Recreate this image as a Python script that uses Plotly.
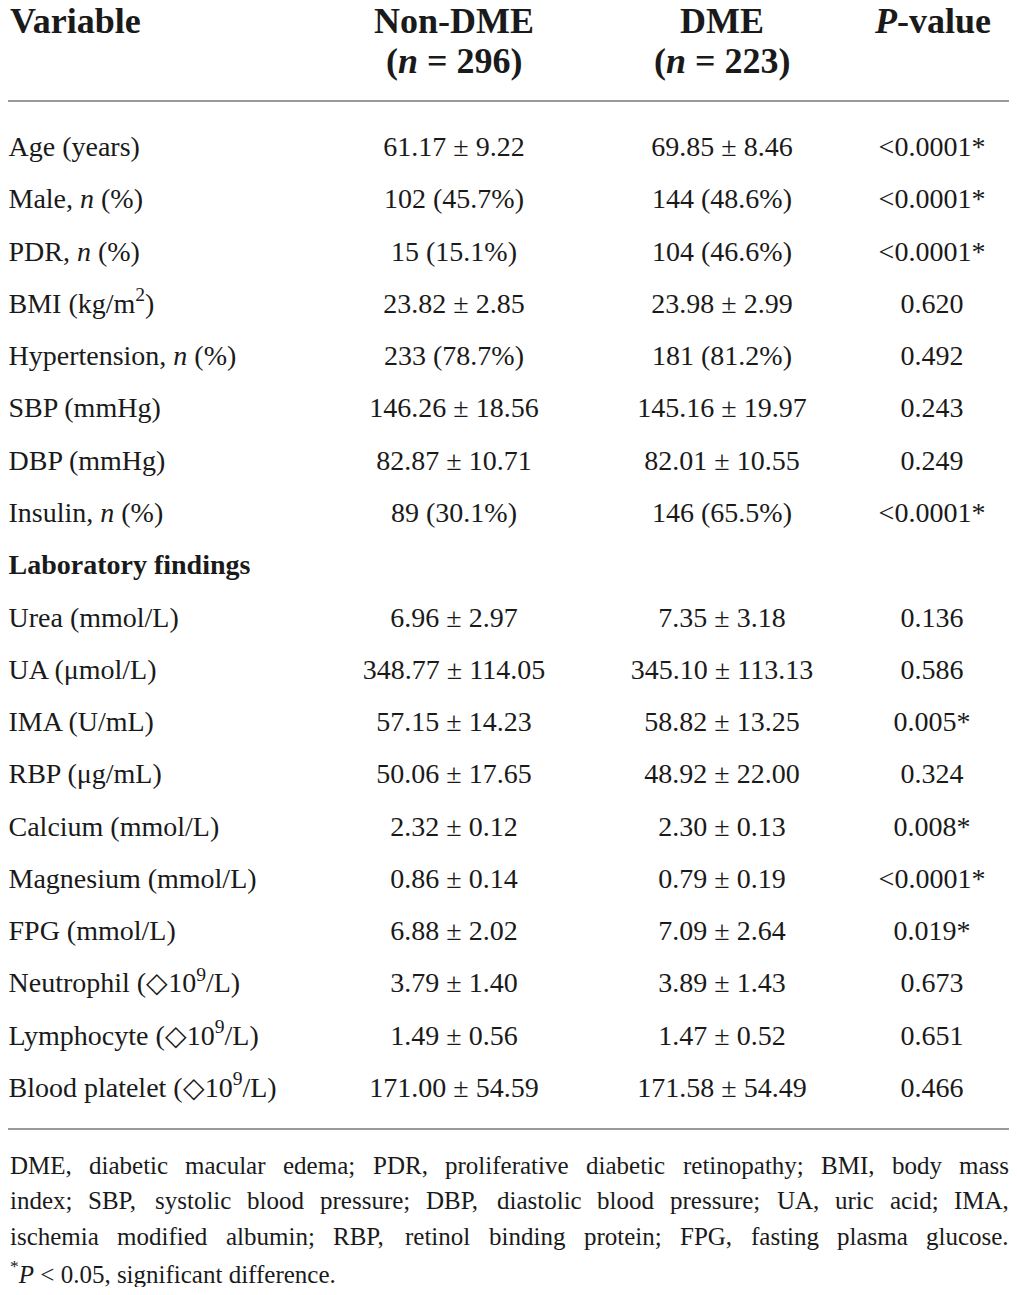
import plotly.graph_objects as go

variables = [
    "Age (years)", "Male, <i>n</i> (%)", "PDR, <i>n</i> (%)", "BMI (kg/m<sup>2</sup>)",
    "Hypertension, <i>n</i> (%)", "SBP (mmHg)", "DBP (mmHg)", "Insulin, <i>n</i> (%)",
    "<b>Laboratory findings</b>", "Urea (mmol/L)", "UA (μmol/L)", "IMA (U/mL)",
    "RBP (μg/mL)", "Calcium (mmol/L)", "Magnesium (mmol/L)", "FPG (mmol/L)",
    "Neutrophil (◇10<sup>9</sup>/L)", "Lymphocyte (◇10<sup>9</sup>/L)",
    "Blood platelet (◇10<sup>9</sup>/L)",
]
non_dme = [
    "61.17 ± 9.22", "102 (45.7%)", "15 (15.1%)", "23.82 ± 2.85", "233 (78.7%)",
    "146.26 ± 18.56", "82.87 ± 10.71", "89 (30.1%)", "", "6.96 ± 2.97",
    "348.77 ± 114.05", "57.15 ± 14.23", "50.06 ± 17.65", "2.32 ± 0.12",
    "0.86 ± 0.14", "6.88 ± 2.02", "3.79 ± 1.40", "1.49 ± 0.56", "171.00 ± 54.59",
]
dme = [
    "69.85 ± 8.46", "144 (48.6%)", "104 (46.6%)", "23.98 ± 2.99", "181 (81.2%)",
    "145.16 ± 19.97", "82.01 ± 10.55", "146 (65.5%)", "", "7.35 ± 3.18",
    "345.10 ± 113.13", "58.82 ± 13.25", "48.92 ± 22.00", "2.30 ± 0.13",
    "0.79 ± 0.19", "7.09 ± 2.64", "3.89 ± 1.43", "1.47 ± 0.52", "171.58 ± 54.49",
]
p_values = [
    "<0.0001*", "<0.0001*", "<0.0001*", "0.620", "0.492", "0.243", "0.249",
    "<0.0001*", "", "0.136", "0.586", "0.005*", "0.324", "0.008*",
    "<0.0001*", "0.019*", "0.673", "0.651", "0.466",
]
headers = ["Variable", "Non-DME", "DME", "<i>P</i>-value"]
header_n = ["", "(<i>n</i> = 296)", "(<i>n</i> = 223)", ""]
footnote = [
    "DME, diabetic macular edema; PDR, proliferative diabetic retinopathy; BMI, body mass",
    "index; SBP, systolic blood pressure; DBP, diastolic blood pressure; UA, uric acid; IMA,",
    "ischemia modified albumin; RBP, retinol binding protein; FPG, fasting plasma glucose.",
]
footnote_last = "<sup>*</sup><i>P</i> &lt; 0.05, significant difference."

# page body has an 8px margin: size the figure to fit inside the window and
# make one data unit equal one screen pixel
OFF = 8
W, H = 1017 - 2 * OFF, 1295 - 2 * OFF
col_x = [8.5, 454, 722, 932]
row_y = [149 + i * 52.28 for i in range(len(variables))]
ink = "#1a1a1a"
serif = "Liberation Serif"

# rough Times-metric widths (per 1000 em) used to justify the footnote
_w = {" ": 250, ",": 250, ".": 250, ";": 278, ":": 278, "-": 333, "(": 333, ")": 333}
_w.update(dict(zip("ABCDEFGHIJKLMNOPQRSTUVWXYZ",
                   [722, 667, 667, 722, 611, 556, 722, 722, 333, 389, 722, 611, 889,
                    722, 722, 556, 722, 667, 556, 611, 722, 722, 944, 722, 722, 611])))
_w.update(dict(zip("abcdefghijklmnopqrstuvwxyz",
                   [444, 500, 444, 500, 444, 333, 500, 500, 278, 278, 500, 278, 778,
                    500, 500, 500, 500, 333, 389, 278, 500, 500, 722, 500, 500, 444])))


def word_width(word, size):
    return sum(_w.get(c, 500) for c in word) * size / 1000.0


fig = go.Figure()

# body columns
columns = [variables, non_dme, dme, [p.replace("<", "&lt;") for p in p_values]]
for j, col in enumerate(columns):
    fig.add_trace(go.Scatter(
        x=[col_x[j]] * len(col), y=row_y, text=col, mode="text",
        textposition="middle right" if j == 0 else "middle center",
        textfont=dict(family=serif, size=28, color=ink),
        hoverinfo="skip", showlegend=False, cliponaxis=False,
    ))

# header
for j in range(4):
    fig.add_annotation(x=col_x[j], y=21, text="<b>" + headers[j] + "</b>",
                       xanchor="left" if j == 0 else "center", yanchor="middle",
                       showarrow=False, borderpad=0,
                       font=dict(family=serif, size=36, color=ink))
    if header_n[j]:
        fig.add_annotation(x=col_x[j], y=61, text="<b>" + header_n[j] + "</b>",
                           xanchor="center", yanchor="middle",
                           showarrow=False, borderpad=0,
                           font=dict(family=serif, size=36, color=ink))

# rules
for yy in [101, 1129]:
    fig.add_shape(type="line", x0=OFF, x1=OFF + W, y0=yy, y1=yy,
                  line=dict(color="#9a9a9a", width=2))

# footnote, justified word by word
fs = 25
left, right = 8.5, 1008
for k, line in enumerate(footnote):
    words = line.split(" ")
    widths = [word_width(w, fs) for w in words]
    gap = (right - left - sum(widths)) / (len(words) - 1)
    xx = left
    for w, ww in zip(words, widths):
        fig.add_annotation(x=xx, y=1165 + k * 35.7, text=w, xanchor="left", yanchor="middle",
                           showarrow=False, borderpad=0,
                           font=dict(family=serif, size=fs, color=ink))
        xx += ww + gap
fig.add_annotation(x=left, y=1165 + 3 * 35.7, text=footnote_last, xanchor="left",
                   yanchor="middle", showarrow=False, borderpad=0,
                   font=dict(family=serif, size=fs, color=ink))

fig.update_xaxes(range=[OFF, OFF + W], visible=False, fixedrange=True)
fig.update_yaxes(range=[OFF + H, OFF], visible=False, fixedrange=True)
fig.update_layout(width=W, height=H, margin=dict(l=0, r=0, t=0, b=0),
                  plot_bgcolor="white", paper_bgcolor="white")

fig.write_html("out.html")
